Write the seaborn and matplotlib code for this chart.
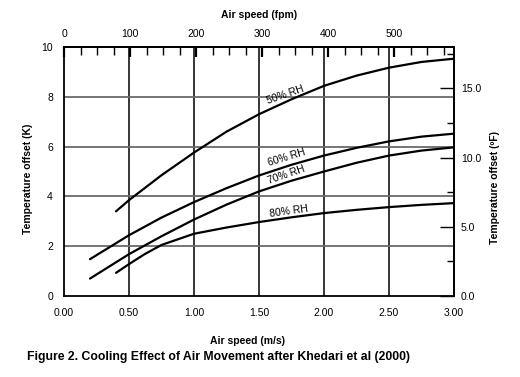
import matplotlib
matplotlib.use("Agg")
import matplotlib.pyplot as plt
import seaborn as sns
import pandas as pd

# data (air speed in m/s, temperature offset in K)
speed_50 = [0.40, 0.50, 0.75, 1.00, 1.25, 1.50, 1.75, 2.00, 2.25, 2.50, 2.75, 3.00]
offset_50 = [3.40, 3.85, 4.85, 5.76, 6.60, 7.30, 7.90, 8.44, 8.85, 9.17, 9.40, 9.53]

speed_60 = [0.20, 0.50, 0.75, 1.00, 1.25, 1.50, 1.75, 2.00, 2.25, 2.50, 2.75, 3.00]
offset_60 = [1.48, 2.44, 3.15, 3.77, 4.33, 4.84, 5.27, 5.64, 5.95, 6.21, 6.40, 6.52]

speed_70 = [0.20, 0.50, 0.75, 1.00, 1.25, 1.50, 1.75, 2.00, 2.25, 2.50, 2.75, 3.00]
offset_70 = [0.70, 1.68, 2.40, 3.07, 3.67, 4.20, 4.63, 5.00, 5.35, 5.64, 5.84, 5.97]

speed_80 = [0.40, 0.50, 0.62, 0.75, 1.00, 1.25, 1.50, 1.75, 2.00, 2.25, 2.50, 2.75, 3.00]
offset_80 = [0.93, 1.28, 1.68, 2.05, 2.50, 2.75, 2.97, 3.16, 3.33, 3.46, 3.57, 3.66, 3.73]

rh_labels = ["50% RH", "60% RH", "70% RH", "80% RH"]
label_pos = [(1.70, 8.08, 19), (1.71, 5.55, 17), (1.71, 4.87, 19), (1.73, 3.40, 8)]

x_ticks = [0.0, 0.5, 1.0, 1.5, 2.0, 2.5, 3.0]
x_ticklabels = ["0.00", "0.50", "1.00", "1.50", "2.00", "2.50", "3.00"]
y_ticks = [0, 2, 4, 6, 8, 10]
fpm_ticks = [0, 100, 200, 300, 400, 500]
degf_ticks = [0.0, 5.0, 10.0, 15.0]

MS_TO_FPM = 196.85
K_TO_F = 1.8

sns.set_theme(style="white")
plt.rcParams['font.family'] = ['Liberation Sans', 'DejaVu Sans']
plt.rcParams['text.color'] = 'black'
plt.rcParams['axes.labelcolor'] = 'black'
plt.rcParams['xtick.color'] = 'black'
plt.rcParams['ytick.color'] = 'black'

fig = plt.figure(figsize=(5.2, 3.77), dpi=100)
ax = fig.add_axes([64 / 520, 81 / 377, 390 / 520, 249 / 377])

series = [(speed_50, offset_50), (speed_60, offset_60),
          (speed_70, offset_70), (speed_80, offset_80)]
for (xs, ys), name in zip(series, rh_labels):
    df = pd.DataFrame({"speed": xs, "offset": ys})
    sns.lineplot(data=df, x="speed", y="offset", ax=ax, color="black",
                 linewidth=1.6, sort=False, estimator=None, zorder=5)

for name, (lx, ly, rot) in zip(rh_labels, label_pos):
    ax.text(lx, ly, name, fontsize=7.5, rotation=rot, ha="center", va="center",
            rotation_mode="anchor", zorder=6)

ax.set_xlim(0, 3)
ax.set_ylim(0, 10)

# grid: black verticals, grey horizontals
for gx in [0.5, 1.0, 1.5, 2.0, 2.5]:
    ax.axvline(gx, color="black", linewidth=1.1, zorder=1)
for gy in [2, 4, 6, 8]:
    ax.axhline(gy, color="#6a6a6a", linewidth=1.3, zorder=1)

ax.set_xticks(x_ticks)
ax.set_xticklabels(x_ticklabels)
ax.set_xticks([0.25, 0.75, 1.25, 1.75, 2.25, 2.75], minor=True)
ax.set_yticks(y_ticks)
ax.set_yticks([v / 2 for v in range(1, 20) if v % 4 != 0], minor=True)
ax.tick_params(axis="both", which="both", direction="in", labelsize=7.5,
               color="black", labelcolor="black", width=1.0)
ax.tick_params(axis="x", which="major", length=0, pad=9)
ax.tick_params(axis="x", which="minor", length=5)
ax.tick_params(axis="y", which="major", length=6, pad=8)
ax.tick_params(axis="y", which="minor", length=6)

for sp in ax.spines.values():
    sp.set_color("black")
    sp.set_linewidth(1.3)
    sp.set_visible(True)

ax.set_xlabel("Air speed (m/s)", fontsize=7.5, fontweight="bold")
ax.xaxis.set_label_coords(247 / 520, 1 - 336 / 377, transform=fig.transFigure)
ax.set_ylabel("Temperature offset (K)", fontsize=7.5, fontweight="bold")
ax.yaxis.set_label_coords(33 / 520, 1 - 179 / 377, transform=fig.transFigure)

# top axis in feet per minute
top = ax.secondary_xaxis("top", functions=(lambda v: v * MS_TO_FPM,
                                            lambda v: v / MS_TO_FPM))
top.set_xticks(fpm_ticks)
top.set_xticks([v for v in range(25, 600, 25) if v % 100 != 0], minor=True)
top.tick_params(which="both", direction="in", labelsize=7.5, pad=6,
                color="black", labelcolor="black")
top.tick_params(which="major", length=7, width=1.6)
top.tick_params(which="minor", length=6, width=1.0)
top.set_xlabel("Air speed (fpm)", fontsize=7.5, fontweight="bold", labelpad=8)
top.spines["top"].set_linewidth(1.3)
top.spines["top"].set_color("black")

# right axis in degrees F
right = ax.secondary_yaxis("right", functions=(lambda v: v * K_TO_F,
                                               lambda v: v / K_TO_F))
right.set_yticks(degf_ticks)
right.set_yticklabels([f"{v:.1f}" for v in degf_ticks])
right.set_yticks([2.5, 7.5, 12.5, 17.5], minor=True)
right.tick_params(which="both", direction="in", labelsize=7.5, pad=5,
                  color="black", labelcolor="black")
right.tick_params(which="major", length=10, width=1.0)
right.tick_params(which="minor", length=5, width=1.0)
right.set_ylabel("Temperature offset (ºF)", fontsize=7.5, fontweight="bold")
right.yaxis.set_label_coords(490 / 520, 1 - 188 / 377, transform=fig.transFigure)
right.spines["right"].set_linewidth(1.3)
right.spines["right"].set_color("black")

fig.text(27 / 520, 1 - 357 / 377,
         "Figure 2. Cooling Effect of Air Movement after Khedari et al (2000)",
         fontsize=8.8, fontweight="bold", ha="left", va="center")

fig.savefig("out.png", dpi=100, facecolor="white")
